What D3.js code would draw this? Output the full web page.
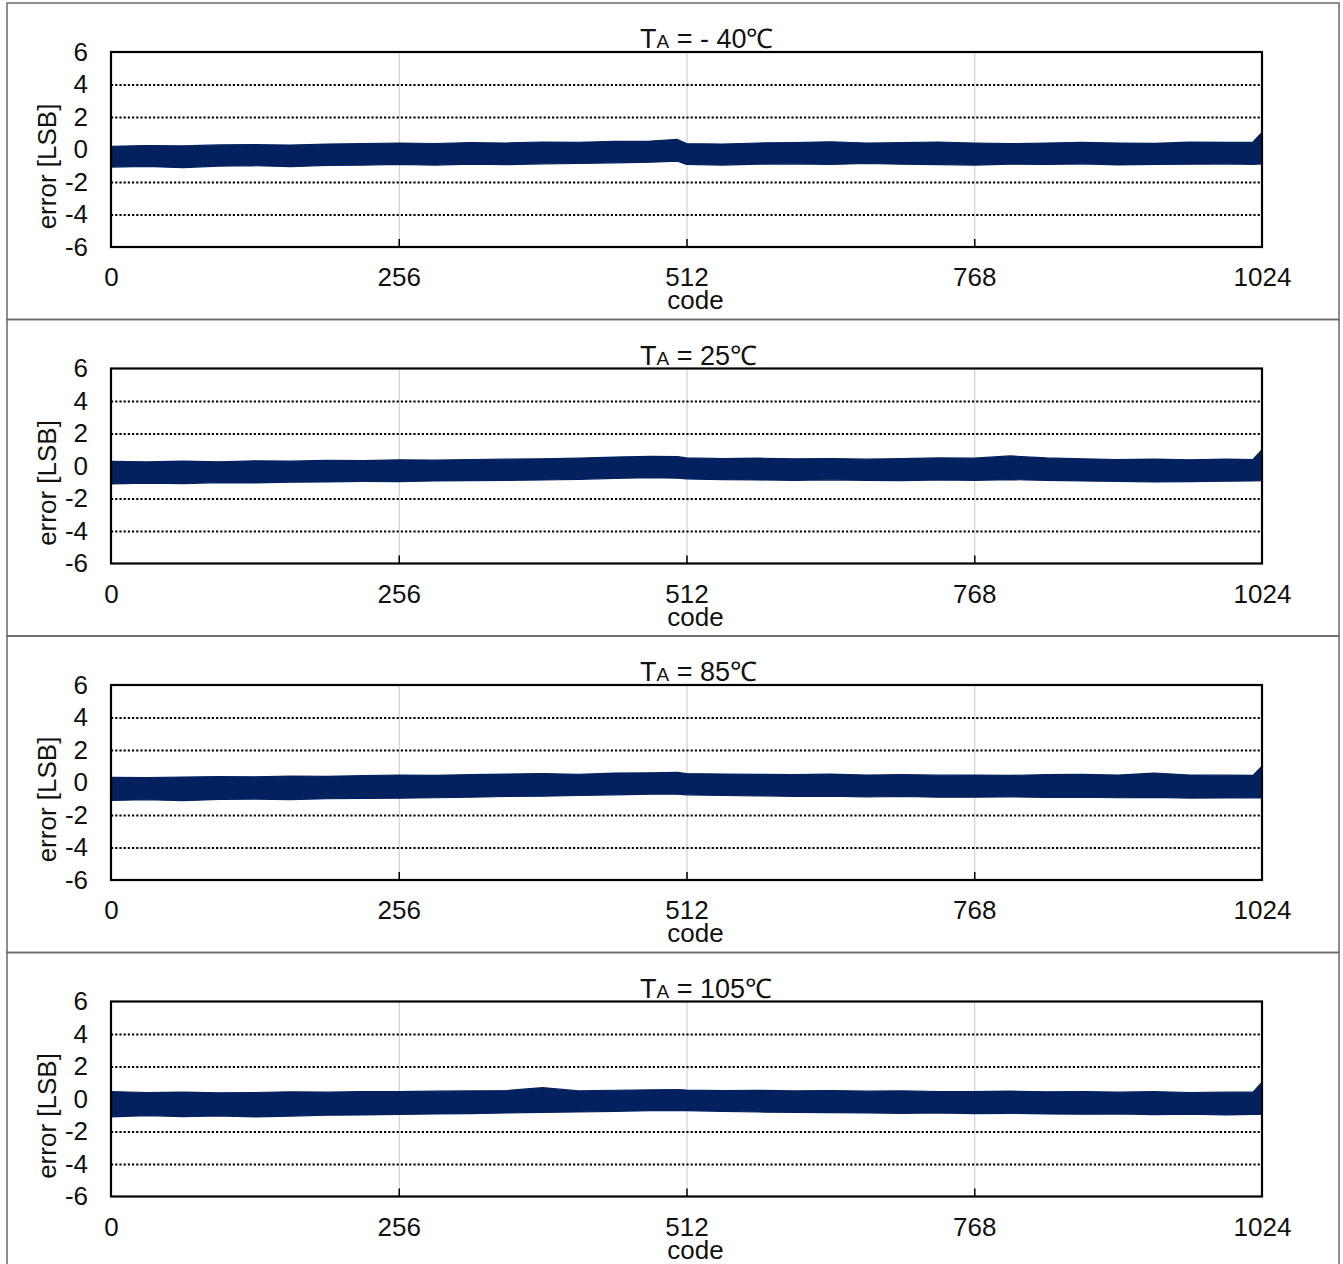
<!DOCTYPE html>
<html>
<head>
<meta charset="utf-8">
<script src="https://cdn.jsdelivr.net/npm/d3@7"></script>
<style>
  body { margin: 0; background: #fff; }
  svg { display: block; font-family: "Liberation Sans", Arial, sans-serif; }
</style>
</head>
<body>
<svg id="chart" width="1343" height="1264"></svg>
<script>
const codes = [0, 32, 64, 96, 128, 160, 192, 224, 256, 288, 320, 352, 384, 416, 448, 480, 504, 512,
  544, 576, 608, 640, 672, 704, 736, 768, 800, 832, 864, 896, 928, 960, 992, 1016, 1024];

const temps = ["- 40", "25", "85", "105"];

const upperM40 = [0.20, 0.24, 0.22, 0.28, 0.30, 0.27, 0.34, 0.36, 0.40, 0.37, 0.42, 0.40, 0.46, 0.44, 0.50, 0.52, 0.62, 0.36,
  0.34, 0.40, 0.43, 0.47, 0.40, 0.42, 0.46, 0.40, 0.36, 0.40, 0.44, 0.40, 0.38, 0.45, 0.44, 0.46, 1.05];
const lowerM40 = [-1.08, -1.04, -1.12, -1.02, -1.00, -1.05, -0.98, -0.96, -0.92, -0.96, -0.90, -0.93, -0.88, -0.86, -0.82, -0.78, -0.72, -0.92,
  -0.96, -0.90, -0.88, -0.92, -0.86, -0.90, -0.93, -0.96, -0.90, -0.92, -0.88, -0.95, -0.92, -0.90, -0.88, -0.92, -0.88];

const upper25 = [0.28, 0.25, 0.30, 0.26, 0.32, 0.30, 0.35, 0.33, 0.38, 0.36, 0.40, 0.42, 0.44, 0.48, 0.55, 0.60, 0.58, 0.50,
  0.45, 0.48, 0.44, 0.46, 0.42, 0.45, 0.50, 0.48, 0.62, 0.50, 0.44, 0.40, 0.42, 0.38, 0.42, 0.40, 1.00];
const lower25 = [-1.10, -1.05, -1.08, -1.02, -1.04, -1.00, -0.98, -0.95, -0.96, -0.92, -0.90, -0.88, -0.86, -0.82, -0.76, -0.72, -0.75, -0.80,
  -0.84, -0.86, -0.88, -0.85, -0.88, -0.90, -0.86, -0.88, -0.84, -0.88, -0.92, -0.95, -0.98, -0.96, -0.94, -0.92, -0.90];

const upper85 = [0.32, 0.30, 0.34, 0.36, 0.35, 0.40, 0.38, 0.42, 0.46, 0.44, 0.48, 0.52, 0.55, 0.50, 0.58, 0.60, 0.62, 0.55,
  0.52, 0.50, 0.48, 0.52, 0.46, 0.48, 0.45, 0.46, 0.44, 0.48, 0.50, 0.46, 0.58, 0.46, 0.45, 0.44, 1.00];
const lower85 = [-1.10, -1.06, -1.12, -1.04, -1.02, -1.05, -1.00, -0.98, -0.97, -0.94, -0.90, -0.86, -0.84, -0.80, -0.76, -0.72, -0.72, -0.76,
  -0.80, -0.82, -0.85, -0.84, -0.88, -0.86, -0.90, -0.90, -0.88, -0.92, -0.90, -0.94, -0.92, -0.96, -0.95, -0.94, -0.95];

const upper105 = [0.45, 0.40, 0.42, 0.38, 0.40, 0.44, 0.42, 0.46, 0.45, 0.48, 0.50, 0.52, 0.70, 0.50, 0.54, 0.56, 0.58, 0.55,
  0.52, 0.54, 0.50, 0.52, 0.48, 0.50, 0.46, 0.45, 0.48, 0.44, 0.46, 0.42, 0.45, 0.40, 0.42, 0.42, 1.03];
const lower105 = [-1.10, -1.02, -1.08, -1.04, -1.10, -1.05, -1.00, -0.98, -0.95, -0.92, -0.90, -0.86, -0.82, -0.80, -0.76, -0.72, -0.70, -0.72,
  -0.76, -0.80, -0.82, -0.84, -0.86, -0.88, -0.86, -0.90, -0.88, -0.92, -0.94, -0.92, -0.96, -0.94, -0.98, -0.95, -0.95];

const uppers = [upperM40, upper25, upper85, upper105];
const lowers = [lowerM40, lower25, lower85, lower105];

const yTicks = [-6, -4, -2, 0, 2, 4, 6];
const yGrid = [-4, -2, 0, 2, 4];
const xTicks = [0, 256, 512, 768, 1024];
const xGrid = [256, 512, 768];

const svg = d3.select("#chart");

const panelH = 316.5;
const plotW = 1151, plotH = 195;
const bandColor = "#03215e";
const fs = 26;

temps.forEach((t, i) => {
    const panel = svg.append("g")
        .attr("transform", `translate(0, ${3 + i * panelH})`);

    // outer frame of the panel
    panel.append("rect")
        .attr("x", 7).attr("y", 0)
        .attr("width", 1332).attr("height", panelH)
        .attr("fill", "none")
        .attr("stroke", "#6a6a6a")
        .attr("stroke-width", 1.5);

    const g = panel.append("g").attr("transform", "translate(111, 49)");

    const x = d3.scaleLinear().domain([0, 1024]).range([0, plotW]);
    const y = d3.scaleLinear().domain([-6, 6]).range([plotH, 0]);

    // vertical grid (light grey)
    const vg = g.append("g")
        .attr("transform", `translate(0, ${plotH})`)
        .call(d3.axisBottom(x).tickValues(xGrid).tickSize(-plotH).tickFormat(""));
    vg.select(".domain").remove();
    vg.selectAll("line").attr("stroke", "#c8c8c8").attr("stroke-width", 1);

    // horizontal grid (dotted)
    const hg = g.append("g")
        .call(d3.axisLeft(y).tickValues(yGrid).tickSize(-plotW).tickFormat(""));
    hg.select(".domain").remove();
    hg.selectAll("line")
        .attr("stroke", "#000")
        .attr("stroke-width", 2.2)
        .attr("stroke-dasharray", "2.2,2");

    // error band
    const rows = codes.map((c, k) => ({code: c, hi: uppers[i][k], lo: lowers[i][k]}));
    const area = d3.area()
        .x(d => x(d.code))
        .y0(d => y(d.lo))
        .y1(d => y(d.hi));
    g.append("path")
        .datum(rows)
        .attr("d", area)
        .attr("fill", bandColor)
        .attr("stroke", bandColor)
        .attr("stroke-width", 1.2)
        .attr("stroke-linejoin", "round");

    // inner tick marks at the bottom
    const tk = g.append("g")
        .attr("transform", `translate(0, ${plotH})`)
        .call(d3.axisBottom(x).tickValues(xGrid).tickSize(-8).tickFormat(""));
    tk.select(".domain").remove();
    tk.selectAll("line").attr("stroke", "#000").attr("stroke-width", 1.5);

    // plot frame
    g.append("rect")
        .attr("width", plotW).attr("height", plotH)
        .attr("fill", "none")
        .attr("stroke", "#000")
        .attr("stroke-width", 2.2);

    // y tick labels (plain hyphen for negatives)
    const ya = g.append("g")
        .call(d3.axisLeft(y).tickValues(yTicks).tickSize(0).tickPadding(23).tickFormat(d => String(d)));
    ya.select(".domain").remove();
    ya.selectAll("text").attr("font-size", fs).attr("font-family", null).attr("fill", "#111");

    // x tick labels
    const xa = g.append("g")
        .attr("transform", `translate(0, ${plotH})`)
        .call(d3.axisBottom(x).tickValues(xTicks).tickSize(0).tickPadding(21).tickFormat(d => String(d)));
    xa.select(".domain").remove();
    xa.selectAll("text").attr("font-size", fs).attr("font-family", null).attr("fill", "#111");

    // axis titles
    g.append("text")
        .attr("x", x(512) + 9)
        .attr("y", plotH + 62)
        .attr("text-anchor", "middle")
        .attr("font-size", fs)
        .attr("fill", "#111")
        .text("code");

    g.append("text")
        .attr("transform", `translate(-64, ${plotH / 2 + 17}) rotate(-90)`)
        .attr("dy", "0.35em")
        .attr("text-anchor", "middle")
        .attr("font-size", fs)
        .attr("fill", "#111")
        .text("error [LSB]");

    // panel title  T_A = ..℃
    const title = g.append("text")
        .attr("x", 529)
        .attr("y", -4)
        .attr("font-size", 27)
        .attr("fill", "#111");
    title.append("tspan").text("T");
    title.append("tspan").attr("font-size", 19).text("A");
    title.append("tspan").text(` = ${t}℃`);
});
</script>
</body>
</html>
